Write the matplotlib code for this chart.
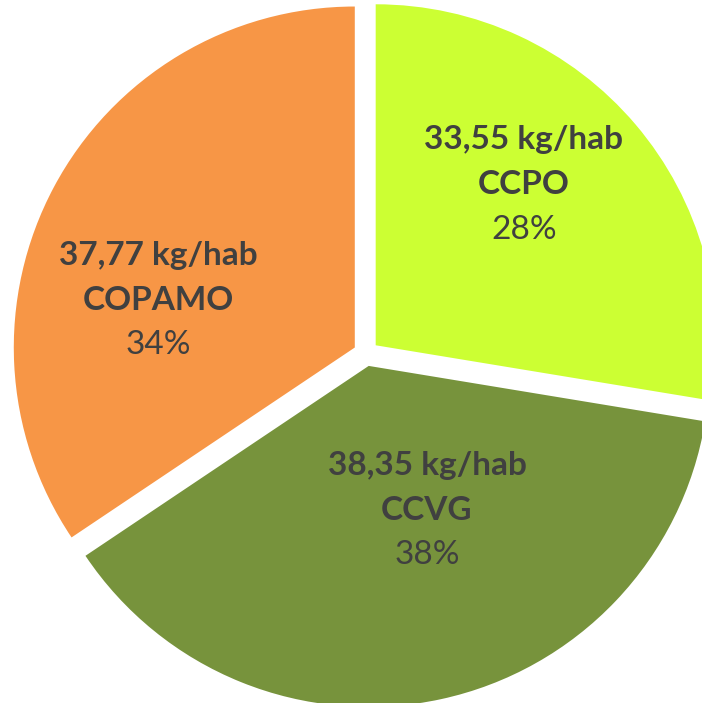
import matplotlib
matplotlib.use('Agg')
import matplotlib.pyplot as plt

regions = ['CCPO', 'CCVG', 'COPAMO']
kg_hab = ['33,55', '38,35', '37,77']
parts = [27.6, 38.0, 34.4]
pourcent = [28, 38, 34]
couleurs = ['#CCFF33', '#77933C', '#F79646']

# mise en page (pixels, origine en bas à gauche)
W, H = 702, 703
centre = (366, H - 353.5)
rayon = 341
ecart = 12.7
# centre de la ligne du milieu de chaque étiquette
pos_labels = [(524, H - 185), (427, H - 510), (158, H - 300)]
interligne = 45

plt.rcParams['font.family'] = ['Lato', 'DejaVu Sans']
fig = plt.figure(figsize=(W / 100, H / 100), dpi=100)
ax = fig.add_axes([0, 0, 1, 1])

ax.pie(parts, colors=couleurs, startangle=90, counterclock=False,
       explode=[ecart] * 3, center=centre, radius=rayon,
       wedgeprops=dict(linewidth=0))

gris = '#404040'
for nom, val, p, (x, y) in zip(regions, kg_hab, pourcent, pos_labels):
    ax.text(x, y + interligne, f'{val} kg/hab', ha='center', va='center',
            fontsize=24, fontweight='bold', color=gris)
    ax.text(x, y, nom, ha='center', va='center',
            fontsize=24, fontweight='bold', color=gris)
    ax.text(x, y - interligne, f'{p}%', ha='center', va='center',
            fontsize=24, color=gris)

ax.set_xlim(0, W)
ax.set_ylim(0, H)
ax.set_aspect('auto')
ax.axis('off')

fig.savefig('out.png', dpi=100)
